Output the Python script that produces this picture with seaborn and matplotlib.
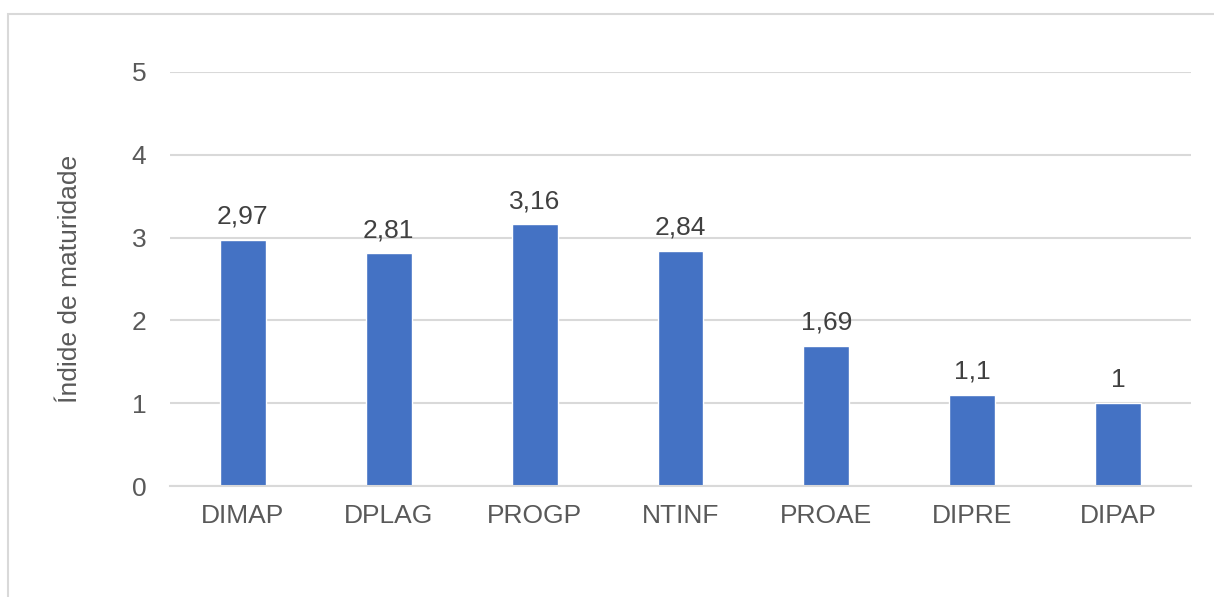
import matplotlib
matplotlib.use("Agg")
import matplotlib.pyplot as plt
from matplotlib.patches import Rectangle
import seaborn as sns
import pandas as pd

categories = ["DIMAP", "DPLAG", "PROGP", "NTINF", "PROAE", "DIPRE", "DIPAP"]
values = [2.97, 2.81, 3.16, 2.84, 1.69, 1.1, 1.0]
value_labels = ["2,97", "2,81", "3,16", "2,84", "1,69", "1,1", "1"]
y_ticks = [0, 1, 2, 3, 4, 5]
y_label = "Índide de maturidade"

sns.set_theme(style="white")
plt.rcParams["font.family"] = ["Liberation Sans", "DejaVu Sans"]

df = pd.DataFrame({"categoria": categories, "indice": values})

fig = plt.figure(figsize=(12.14, 5.97), dpi=100)
ax = fig.add_axes([170 / 1214, 1 - 486 / 597, 1021 / 1214, 414 / 597])

sns.barplot(data=df, x="categoria", y="indice", color="#4472C4",
            saturation=1, width=0.315, ax=ax, zorder=3)

ax.set_ylim(0, 5)
ax.set_yticks(y_ticks)
ax.set_yticklabels([str(t) for t in y_ticks])
ax.set_xlim(-0.5, len(categories) - 0.5)
ax.yaxis.grid(True, color="#d9d9d9", linewidth=1.5, zorder=0)
ax.xaxis.grid(False)
for side in ["top", "right", "left"]:
    ax.spines[side].set_visible(False)
ax.spines["bottom"].set_color("#d9d9d9")
ax.spines["bottom"].set_linewidth(1.5)
ax.spines["bottom"].set_zorder(4)

ax.tick_params(axis="y", length=0, pad=17, labelsize=19, labelcolor="#595959")
ax.tick_params(axis="x", length=0, pad=13, labelsize=19, labelcolor="#595959")
ax.set_xlabel("")
ax.set_ylabel(y_label, fontsize=19, color="#595959", labelpad=36)

for i, (v, lab) in enumerate(zip(values, value_labels)):
    ax.annotate(lab, xy=(i, v), xytext=(0, 8), textcoords="offset points",
                ha="center", va="bottom", fontsize=19, color="#404040")

# outer chart frame
frame = Rectangle((8 / 1214, -0.1), 1.2, 1 - 14 / 597 + 0.1,
                  transform=fig.transFigure, fill=False,
                  edgecolor="#d9d9d9", linewidth=1.5)
fig.patches.append(frame)

fig.savefig("out.png", dpi=100)
